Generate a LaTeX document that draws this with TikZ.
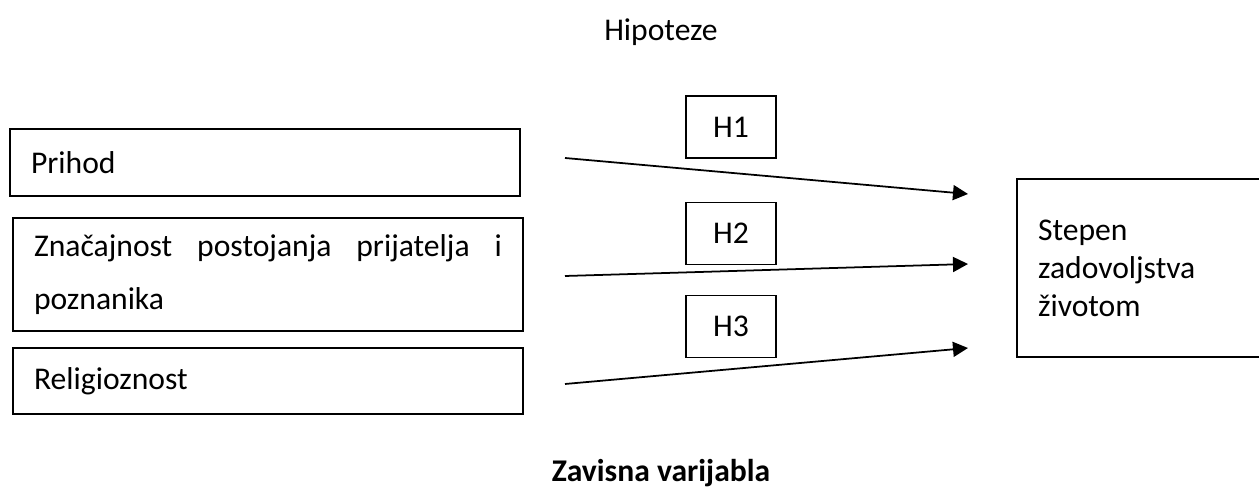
\documentclass[tikz,border=0pt]{standalone}
\usepackage{fontspec}
\setmainfont{Carlito}
\usetikzlibrary{arrows.meta}

\begin{document}
\begin{tikzpicture}[x=0.02cm, y=-0.02cm,
    varbox/.style={draw, line width=1pt, inner xsep=0.42cm, inner ysep=0pt,
      font=\fontsize{18}{30}\selectfont},
    hbox/.style={draw, line width=1pt, minimum width=1.8cm, minimum height=1.24cm,
      font=\fontsize{18}{22}\selectfont},
    link/.style={line width=1pt, -{Triangle[length=0.3cm, width=0.3cm]}}]
    \useasboundingbox (0,0) rectangle (1259,496);

    % title
    \node[font=\fontsize{18}{22}\selectfont](hip) at (661,32){Hipoteze};

    % left boxes
    \node[varbox, text width=9.36cm, minimum height=1.34cm, align=left](prihod)
      at (265,162.5){Prihod};
    \node[varbox, text width=9.36cm, minimum height=2.26cm, align=justify](znac)
      at (268,274.5){Značajnost postojanja prijatelja i\linebreak poznanika};
    \node[varbox, text width=9.36cm, minimum height=1.32cm, align=left](relig)
      at (268,381){Religioznost};

    % right box
    \node[varbox, text width=4.02cm, minimum height=3.56cm, align=left,
      font=\fontsize{18}{21.6}\selectfont](stepen)
      at (1138.5,268){Stepen\\zadovoljstva\\životom};

    % H boxes
    \node[hbox](h1) at (731,127){H1};
    \node[hbox](h2) at (731,233.5){H2};
    \node[hbox](h3) at (731,326.5){H3};

    % arrows
    \coordinate (a1) at (565,158);
    \coordinate (b1) at (968,194);
    \coordinate (a2) at (565,276);
    \coordinate (b2) at (968,264);
    \coordinate (a3) at (565,384);
    \coordinate (b3) at (968,348);
    \draw[link] (a1) -- (b1);
    \draw[link] (a2) -- (b2);
    \draw[link] (a3) -- (b3);

    % caption
    \node[font=\fontsize{18}{22}\selectfont\bfseries](zav) at (661,473){Zavisna varijabla};
  \end{tikzpicture}
\end{document}
